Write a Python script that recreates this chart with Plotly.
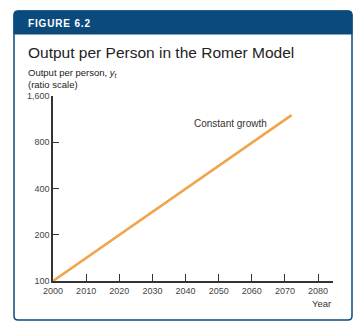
import plotly.graph_objects as go

years = [2000, 2072]
output = [100, 1200]
y_ticks = [100, 200, 400, 800, 1600]
y_labels = ["100", "200", "400", "800", "1,600"]
x_ticks = [2000, 2010, 2020, 2030, 2040, 2050, 2060, 2070, 2080]

W, H = 358, 329
L, R, T, B = 53, 25, 96, 48
PW, PH = W - L - R, H - T - B

def px(x):
    return (x - L) / PW

def py(y):
    return (H - B - y) / PH

FONT = "Liberation Sans, Arial, sans-serif"
BLUE = "#0a4a7c"

fig = go.Figure()
fig.add_trace(go.Scatter(x=years, y=output, mode="lines",
                         line=dict(color="#f0a54a", width=2.6),
                         hoverinfo="skip", showlegend=False))

# panel box with rounded corners
x0, x1, y0, y1, r = 14, 352, 11, 320, 4
box = (f"M {px(x0+r)},{py(y0)} L {px(x1-r)},{py(y0)} Q {px(x1)},{py(y0)} {px(x1)},{py(y0+r)} "
       f"L {px(x1)},{py(y1-r)} Q {px(x1)},{py(y1)} {px(x1-r)},{py(y1)} "
       f"L {px(x0+r)},{py(y1)} Q {px(x0)},{py(y1)} {px(x0)},{py(y1-r)} "
       f"L {px(x0)},{py(y0+r)} Q {px(x0)},{py(y0)} {px(x0+r)},{py(y0)} Z")
hy = 34
header = (f"M {px(x0+r)},{py(y0)} L {px(x1-r)},{py(y0)} Q {px(x1)},{py(y0)} {px(x1)},{py(y0+r)} "
          f"L {px(x1)},{py(hy)} L {px(x0)},{py(hy)} L {px(x0)},{py(y0+r)} "
          f"Q {px(x0)},{py(y0)} {px(x0+r)},{py(y0)} Z")
fig.add_shape(type="path", path=box, xref="paper", yref="paper",
              line=dict(color=BLUE, width=1.5), fillcolor="rgba(0,0,0,0)", layer="below")
fig.add_shape(type="path", path=header, xref="paper", yref="paper",
              line=dict(color=BLUE, width=1), fillcolor=BLUE, layer="below")

def ann(text, x, y, size, color, xanchor="left", bold=False, yanchor="middle"):
    fig.add_annotation(text=f"<b>{text}</b>" if bold else text, x=px(x), y=py(y),
                       xref="paper", yref="paper", showarrow=False,
                       xanchor=xanchor, yanchor=yanchor,
                       font=dict(family=FONT, size=size, color=color))

ann("\u200a".join("FIGURE 6.2"), 26, 23, 10, "white", bold=True)
ann("Output per Person in the Romer Model", 26, 52, 15.5, "#222222")
ann("Output per person, <i>y<sub>t</sub></i>", 26, 73, 9.5, "#222222")
ann("(ratio scale)", 26, 84, 9.5, "#222222")
ann("Constant growth", 230, 123, 10, "#333333", xanchor="center")
ann("Year", 333, 303, 9.5, "#333333", xanchor="right")

fig.update_xaxes(range=[2000, 2084.5], tickvals=x_ticks, ticks="inside", ticklen=7,
                 tickwidth=1.3, tickcolor="#333333", showline=True, linecolor="#333333",
                 linewidth=1.5, showgrid=False, zeroline=False,
                 tickfont=dict(family=FONT, size=9, color="#444444"))
fig.update_yaxes(type="log", range=[2, 3.2041], tickvals=y_ticks, ticktext=y_labels,
                 ticks="inside", ticklen=6, tickwidth=1.3, tickcolor="#333333",
                 showline=True, linecolor="#333333", linewidth=1.5, showgrid=False,
                 zeroline=False, tickfont=dict(family=FONT, size=9, color="#444444"))

fig.update_layout(width=W, height=H, margin=dict(l=L, r=R, t=T, b=B),
                  paper_bgcolor="white", plot_bgcolor="white")
fig.write_html("out.html")
